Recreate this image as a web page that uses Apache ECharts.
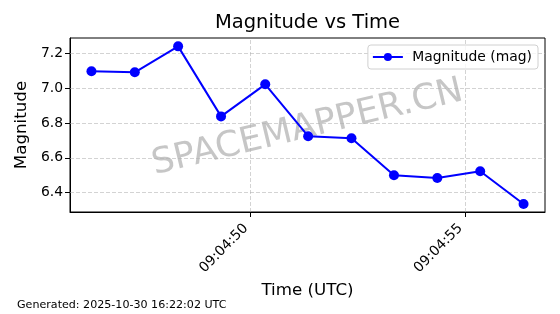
<!DOCTYPE html>
<html>
<head>
<meta charset="utf-8">
<script src="https://cdn.jsdelivr.net/npm/echarts@6/dist/echarts.min.js"></script>
<style>
html,body{margin:0;padding:0;background:#fff;}
#c{width:560px;height:314px;}
</style>
</head>
<body>
<div id="c"></div>
<script>
// Time offsets in seconds after 09:04:00 UTC
var timeSec = [46.30, 47.31, 48.32, 49.32, 50.35, 51.35, 52.36, 53.35, 54.36, 55.36, 56.37];
var magnitude = [7.097, 7.091, 7.240, 6.838, 7.022, 6.724, 6.712, 6.500, 6.484, 6.523, 6.335];
var xTickSec = [50, 55];
var xTickLabels = ['09:04:50', '09:04:55'];
var yTicks = [6.4, 6.6, 6.8, 7.0, 7.2];
var seriesName = 'Magnitude (mag)';
var titleText = 'Magnitude vs Time';
var footerText = 'Generated: 2025-10-30 16:22:02 UTC';
var watermarkText = 'SPACEMAPPER.CN';

var FONT = 'DejaVu Sans';
var xMin = 45.80, xMax = 56.87, yMin = 6.289, yMax = 7.288;
var gridL = 70, gridR = 15, gridT = 38, gridB = 102;
var cx = (gridL + 560 - gridR) / 2, cy = (gridT + 314 - gridB) / 2;

var data = timeSec.map(function (t, i) { return [t, magnitude[i]]; });
var gridLineStyle = { color: '#b0b0b0', type: [4, 2], width: 0.8, opacity: 0.7 };
var markData = [];
xTickSec.forEach(function (v) { markData.push({ xAxis: v }); });
yTicks.forEach(function (v) { markData.push({ yAxis: v }); });

var chart = echarts.init(document.getElementById('c'), null, { renderer: 'canvas' });
chart.setOption({
  animation: false,
  backgroundColor: '#fff',
  grid: {
    left: gridL, right: gridR, top: gridT, bottom: gridB,
    show: true, borderColor: '#000', borderWidth: 1, backgroundColor: 'transparent'
  },
  legend: {
    right: 22, top: 45,
    padding: [5, 6, 5, 4],
    borderColor: '#d0d0d0', borderWidth: 1, borderRadius: 3,
    backgroundColor: 'rgba(255,255,255,0.8)',
    itemWidth: 30, itemHeight: 10,
    formatter: function (n) { return ' ' + n; },
    textStyle: { fontFamily: FONT, fontSize: 13.9, color: '#000' },
    data: [seriesName]
  },
  xAxis: {
    type: 'value', min: xMin, max: xMax,
    name: 'Time (UTC)', nameLocation: 'middle', nameGap: 69,
    nameTextStyle: { fontFamily: FONT, fontSize: 16.7, color: '#000' },
    axisLine: { show: true, lineStyle: { color: '#000', width: 1 } },
    axisTick: { show: true, inside: false, length: 5, customValues: xTickSec, lineStyle: { color: '#000' } },
    axisLabel: {
      customValues: xTickSec, rotate: 45, margin: 10, padding: [0, 6, 0, 0],
      fontFamily: FONT, fontSize: 13.9, color: '#000',
      formatter: function (v) { var i = xTickSec.indexOf(v); return i >= 0 ? xTickLabels[i] : ''; }
    },
    splitLine: { show: false }
  },
  yAxis: {
    type: 'value', min: yMin, max: yMax,
    name: 'Magnitude', nameLocation: 'middle', nameGap: 36, nameRotate: 90,
    nameTextStyle: { fontFamily: FONT, fontSize: 16.7, color: '#000' },
    axisLine: { show: true, lineStyle: { color: '#000', width: 1 } },
    axisTick: { show: true, inside: false, length: 5, customValues: yTicks, lineStyle: { color: '#000' } },
    axisLabel: {
      customValues: yTicks, margin: 7,
      fontFamily: FONT, fontSize: 13.9, color: '#000',
      formatter: function (v) { return v.toFixed(1); }
    },
    splitLine: { show: false }
  },
  graphic: [
    {
      type: 'text', x: cx, y: 23,
      style: { text: titleText, fontFamily: FONT, fontSize: 19.5, fill: '#000', align: 'center', verticalAlign: 'middle' }
    },
    {
      type: 'text', z: 0,
      x: cx, y: cy + 3,
      rotation: 13.5 * Math.PI / 180,
      style: {
        text: watermarkText, fontFamily: FONT, fontSize: 35.5,
        fill: 'rgba(128,128,128,0.45)', align: 'center', verticalAlign: 'middle'
      }
    },
    {
      type: 'text', x: 17, y: 305,
      style: { text: footerText, fontFamily: FONT, fontSize: 11.1, fill: '#000', verticalAlign: 'middle' }
    }
  ],
  series: [{
    name: seriesName, type: 'line', data: data, z: 3,
    symbol: 'circle', symbolSize: 10, showSymbol: true,
    lineStyle: { color: '#0000ff', width: 2 },
    itemStyle: { color: '#0000ff' },
    markLine: {
      silent: true, symbol: 'none', label: { show: false },
      lineStyle: gridLineStyle, z: 1,
      data: markData
    }
  }]
});
</script>
</body>
</html>
